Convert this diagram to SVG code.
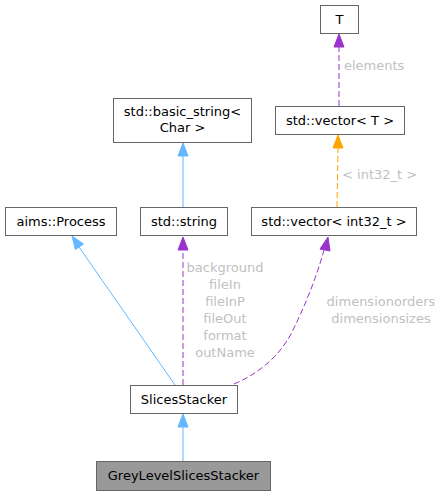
<svg xmlns="http://www.w3.org/2000/svg" width="442" height="494" viewBox="0 0 442 494">
<style>
.box{fill:#ffffff;stroke:#666666;stroke-width:1}
.cur{fill:#999999;stroke:#666666;stroke-width:1}
.t{font-family:"DejaVu Sans",sans-serif;font-size:13px;fill:#000000;text-anchor:middle}
.lbl{font-family:"DejaVu Sans",sans-serif;font-size:13px;fill:#bfbfbf}
.blue{stroke:#63b8ff;fill:none;stroke-width:1}
.purple{stroke:#9a32cd;fill:none;stroke-width:1;stroke-dasharray:6,3}
.orange{stroke:#ffa500;fill:none;stroke-width:1;stroke-dasharray:6,3}
.ab{fill:#63b8ff;stroke:#63b8ff}
.ap{fill:#9a32cd;stroke:#9a32cd}
.ao{fill:#ffa500;stroke:#ffa500}
</style>
<rect width="442" height="494" fill="#ffffff"/>
<g id="connectors">
  <g id="e_vecT_T">
    <path class="purple" d="M339,106 L339,47"/>
    <polygon class="ap" points="339,34 344,47 334,47"/>
    <text class="lbl" x="344" y="70">elements</text>
  </g>
  <g id="e_vecint_vecT">
    <path class="orange" d="M337,207 L338,148"/>
    <polygon class="ao" points="338,135 343,148 333,148"/>
    <text class="lbl" x="342" y="179">&lt; int32_t &gt;</text>
  </g>
  <g id="e_string_basic">
    <path class="blue" d="M183,207 L183,156"/>
    <polygon class="ab" points="183,143 188,156 178,156"/>
  </g>
  <g id="e_slices_process">
    <path class="blue" d="M175,385 L79,247"/>
    <polygon class="ab" points="72,236 83.5,244 75.3,249.6"/>
  </g>
  <g id="e_slices_string">
    <path class="purple" d="M183,385 L183,250"/>
    <polygon class="ap" points="183,237 188,250 178,250"/>
    <text class="lbl" x="225" y="272" text-anchor="middle">background</text>
    <text class="lbl" x="225" y="289" text-anchor="middle">fileIn</text>
    <text class="lbl" x="225" y="306" text-anchor="middle">fileInP</text>
    <text class="lbl" x="225" y="323" text-anchor="middle">fileOut</text>
    <text class="lbl" x="225" y="340" text-anchor="middle">format</text>
    <text class="lbl" x="225" y="357" text-anchor="middle">outName</text>
  </g>
  <g id="e_slices_vecint">
    <path class="purple" d="M234,384 C258,374 280,356 292,332 C305,306 317,276 324,250"/>
    <polygon class="ap" points="328,237 330,251 320,249"/>
    <text class="lbl" x="381" y="306" text-anchor="middle">dimensionorders</text>
    <text class="lbl" x="381" y="323" text-anchor="middle">dimensionsizes</text>
  </g>
  <g id="e_grey_slices">
    <path class="blue" d="M183,461 L183,427"/>
    <polygon class="ab" points="183,414 188,427 178,427"/>
  </g>
</g>
<g id="node_T">
  <rect class="box" x="320.5" y="5.5" width="38" height="28"/>
  <text class="t" x="339.5" y="24">T</text>
</g>
<g id="node_basic_string">
  <rect class="box" x="113.5" y="98.5" width="138" height="44"/>
  <text class="t" x="182.5" y="116">std::basic_string&lt;</text>
  <text class="t" x="182.5" y="132">Char &gt;</text>
</g>
<g id="node_vector_T">
  <rect class="box" x="275.5" y="106.5" width="129" height="28"/>
  <text class="t" x="340" y="125">std::vector&lt; T &gt;</text>
</g>
<g id="node_process">
  <rect class="box" x="5.5" y="207.5" width="111" height="28"/>
  <text class="t" x="61" y="226">aims::Process</text>
</g>
<g id="node_string">
  <rect class="box" x="140.5" y="207.5" width="87" height="28"/>
  <text class="t" x="184" y="226">std::string</text>
</g>
<g id="node_vector_int">
  <rect class="box" x="251.5" y="207.5" width="165" height="28"/>
  <text class="t" x="334" y="226">std::vector&lt; int32_t &gt;</text>
</g>
<g id="node_slices">
  <rect class="box" x="130.5" y="385.5" width="107" height="28"/>
  <text class="t" x="184" y="404">SlicesStacker</text>
</g>
<g id="node_grey">
  <rect class="cur" x="96.5" y="461.5" width="174" height="29"/>
  <text class="t" x="183.5" y="480">GreyLevelSlicesStacker</text>
</g>
</svg>
